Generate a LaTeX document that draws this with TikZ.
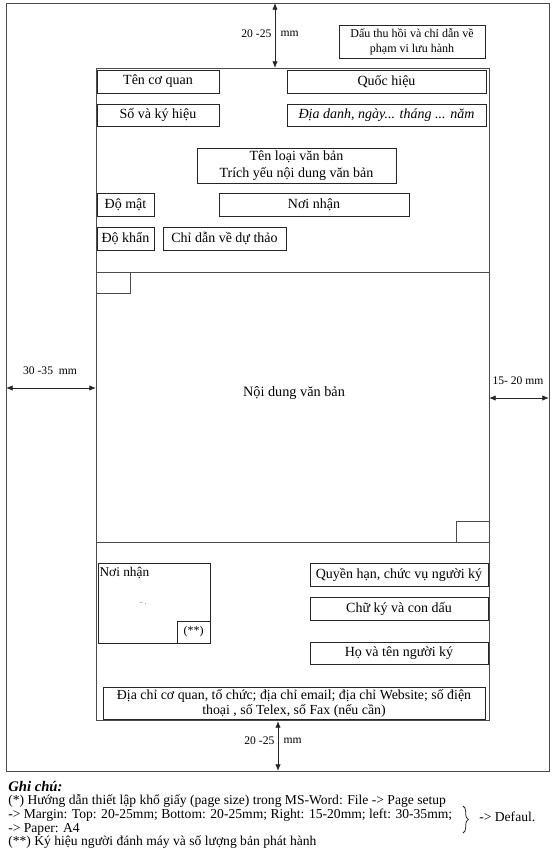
\documentclass[tikz,border=0pt]{standalone}
\usepackage{fontspec}
\setmainfont{Liberation Serif}
\usetikzlibrary{arrows.meta,decorations.pathreplacing}
\begin{document}
\begin{tikzpicture}[x=0.75pt,y=-0.75pt,
 box/.style={draw=black!85,line width=0.7pt,inner sep=1pt,align=center,font=\fontsize{10.5}{12.75}\selectfont},
 frameline/.style={draw=black!70,line width=0.6pt},
 dim/.style={black!85,line width=0.6pt,{Latex[length=5pt,width=4pt]}-{Latex[length=5pt,width=4pt]}},
 dimlbl/.style={font=\fontsize{8.7}{10}\selectfont,inner sep=1pt},
 note/.style={anchor=west,inner sep=0pt,font=\fontsize{10.2}{12}\selectfont}]
\useasboundingbox (0,0) rectangle (554,864);
\fill[white] (0,0) rectangle (554,864);
% page and frame
\draw[frameline] (6,3) rectangle (549,771);
\draw[frameline] (96,68) rectangle (489,720);
\draw[frameline] (96,272) -- (489,272);
\draw[frameline] (96,293) -- (130,293) -- (130,272);
\draw[frameline] (96,542) -- (489,542);
\draw[frameline] (456,542) -- (456,521) -- (489,521);
% header boxes
\node[box,minimum width=109.5pt,minimum height=24.75pt,font=\fontsize{9}{11.25}\selectfont] (dau) at (412,41.5) {Dấu thu hồi và chỉ dẫn về\\phạm vi lưu hành};
\node[box,minimum width=91.5pt,minimum height=17.25pt] (tencq) at (158,81.5) {Tên cơ quan};
\node[box,minimum width=149.25pt,minimum height=17.25pt] (quochieu) at (386.5,81.5) {Quốc hiệu};
\node[box,minimum width=91.5pt,minimum height=16.5pt] (sokh) at (158,115) {Số và ký hiệu};
\node[box,minimum width=149.25pt,minimum height=16.5pt,font=\fontsize{10.5}{12.75}\selectfont\itshape] (diadanh) at (386.5,115) {Địa danh, ngày... tháng ... năm};
\node[box,minimum width=149.25pt,minimum height=26.25pt] (tenloai) at (296.5,165.5) {Tên loại văn bản\\Trích yếu nội dung văn bản};
\node[box,minimum width=42.75pt,minimum height=17.25pt] (domat) at (125.5,204.5) {Độ mật};
\node[box,minimum width=142.5pt,minimum height=17.25pt] (noinhan) at (314,204.5) {Nơi nhận};
\node[box,minimum width=42.75pt,minimum height=17.25pt] (dokhan) at (125.5,238.5) {Độ khẩn};
\node[box,minimum width=92.25pt,minimum height=17.25pt] (chidan) at (224.5,238.5) {Chỉ dẫn về dự thảo};
% body
\node[font=\fontsize{10.7}{12.75}\selectfont] (noidung) at (294,393) {Nội dung văn bản};
% footer
\node[box,minimum width=84pt,minimum height=60pt] (noinhan2) at (154,603) {};
\node[anchor=north west,inner sep=1pt,font=\fontsize{10}{12}\selectfont] (noinhanlbl) at (98,566) {Nơi nhận};
\node[font=\fontsize{5}{6}\selectfont,text=black!75] (mark) at (143,604) {-- .};
\node[box,minimum width=24.75pt,minimum height=16.5pt,font=\fontsize{9}{11}\selectfont] (star) at (193.5,632) {(**)};
\node[box,minimum width=133.5pt,minimum height=17.25pt] (quyenhan) at (399,574.5) {Quyền hạn, chức vụ người ký};
\node[box,minimum width=133.5pt,minimum height=17.25pt] (chuky) at (399,608.5) {Chữ ký và con dấu};
\node[box,minimum width=133.5pt,minimum height=16.5pt] (hoten) at (399,653) {Họ và tên người ký};
\node[box,minimum width=286.5pt,minimum height=24pt,font=\fontsize{10.4}{11.25}\selectfont] (diachi) at (294,703) {Địa chỉ cơ quan, tổ chức; địa chỉ email; địa chỉ Website; số điện\\thoại , số Telex, số Fax (nếu cần)};
% dimension arrows
\coordinate (ptop) at (275,3);
\coordinate (ftop) at (275,68);
\draw[dim] (ptop) -- (ftop);
\node[dimlbl,anchor=east] (t1) at (273,34) {20 -25};
\node[dimlbl,anchor=west] (t2) at (279,34) {mm};
\coordinate (pleft) at (6,388);
\coordinate (fleft) at (96,388);
\draw[dim] (pleft) -- (fleft);
\node[dimlbl] (l1) at (50,371) {30 -35\ \ mm};
\coordinate (fright) at (489,398);
\coordinate (pright) at (549,398);
\draw[dim] (fright) -- (pright);
\node[dimlbl] (r1) at (518,381) {15- 20 mm};
\coordinate (fbot) at (278,721);
\coordinate (pbot) at (278,771);
\draw[dim] (fbot) -- (pbot);
\node[dimlbl,anchor=east] (b1) at (276,741) {20 -25};
\node[dimlbl,anchor=west] (b2) at (282,741) {mm};
% notes
\node[note,font=\fontsize{11}{13}\selectfont\bfseries\itshape] (ghichu) at (8,786) {Ghi chú:};
\node[note] (n1) at (8,801) {(*) Hướng dẫn thiết lập khổ giấy (page size) trong MS-Word: File -> Page setup};
\node[note] (n2) at (8,815) {-> Margin: Top: 20-25mm; Bottom: 20-25mm; Right: 15-20mm; left: 30-35mm;};
\node[note] (n3) at (8,829) {-> Paper: A4};
\node[note] (n4) at (8,842) {(**) Ký hiệu người đánh máy và số lượng bản phát hành};
\coordinate (brt) at (463,806);
\coordinate (brb) at (463,833);
\draw[black!85,line width=0.6pt,decorate,decoration={brace,amplitude=4pt}] (brt) -- (brb);
\node[note] (defaul) at (479,817) {-> Defaul.};
\end{tikzpicture}
\end{document}
